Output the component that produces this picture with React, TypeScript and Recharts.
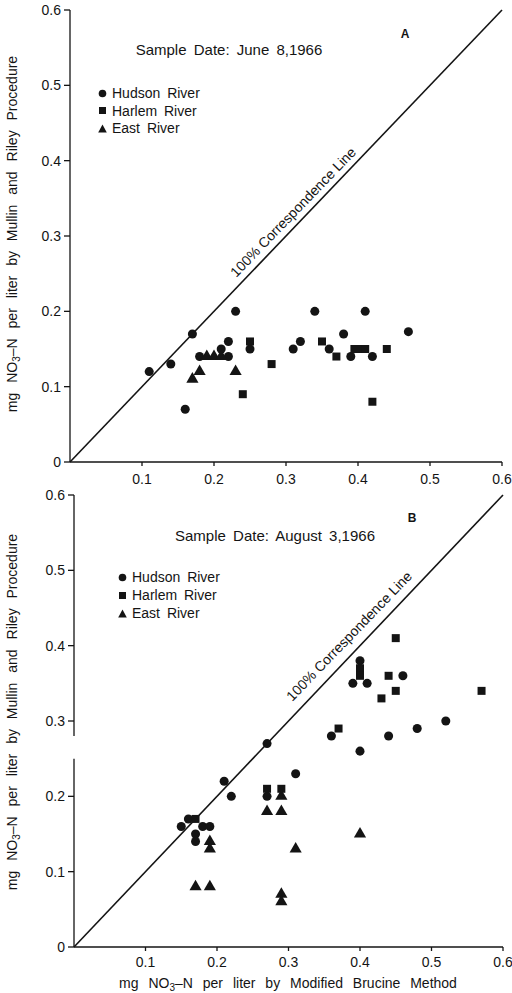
import React from 'react';
import { ScatterChart, Scatter, XAxis, YAxis, ZAxis, ReferenceLine } from 'recharts';

// values (mg NO3-N per liter)
const xTicks = [0.1, 0.2, 0.3, 0.4, 0.5, 0.6];
const yTicks = [0, 0.1, 0.2, 0.3, 0.4, 0.5, 0.6];
const riverNames = ['Hudson River', 'Harlem River', 'East River'];

// panel A - June 8, 1966  [brucine, mullin-riley]
const hudsonJune = [
  [0.11, 0.12], [0.14, 0.13], [0.17, 0.17], [0.16, 0.07], [0.18, 0.14], [0.21, 0.15],
  [0.22, 0.14], [0.22, 0.16], [0.23, 0.2], [0.25, 0.15], [0.31, 0.15], [0.32, 0.16],
  [0.34, 0.2], [0.36, 0.15], [0.38, 0.17], [0.39, 0.14], [0.41, 0.2], [0.42, 0.14],
  [0.47, 0.173],
];
const harlemJune = [
  [0.24, 0.09], [0.25, 0.16], [0.28, 0.13], [0.35, 0.16], [0.37, 0.14], [0.395, 0.15],
  [0.4, 0.15], [0.41, 0.15], [0.42, 0.08], [0.44, 0.15],
];
const eastJune = [
  [0.17, 0.11], [0.18, 0.12], [0.19, 0.14], [0.2, 0.14], [0.21, 0.14], [0.23, 0.12],
];

// panel B - August 3, 1966
const hudsonAug = [
  [0.15, 0.16], [0.16, 0.17], [0.18, 0.16], [0.19, 0.16], [0.17, 0.15], [0.17, 0.14],
  [0.21, 0.22], [0.22, 0.2], [0.27, 0.27], [0.27, 0.2], [0.31, 0.23], [0.36, 0.28],
  [0.39, 0.35], [0.4, 0.38], [0.41, 0.35], [0.4, 0.26], [0.44, 0.28], [0.46, 0.36],
  [0.48, 0.29], [0.52, 0.3],
];
const harlemAug = [
  [0.17, 0.17], [0.27, 0.21], [0.29, 0.21], [0.37, 0.29], [0.4, 0.37], [0.4, 0.36],
  [0.43, 0.33], [0.44, 0.36], [0.45, 0.34], [0.45, 0.41], [0.57, 0.34],
];
const eastAug = [
  [0.19, 0.14], [0.19, 0.13], [0.17, 0.08], [0.19, 0.08], [0.27, 0.18], [0.29, 0.2],
  [0.29, 0.18], [0.29, 0.07], [0.29, 0.06], [0.31, 0.13], [0.4, 0.15],
];

const INK = '#141414';
const FONT = '"Liberation Sans", Arial, Helvetica, sans-serif';

const toPts = (arr: number[][]) => arr.map(([x, y]) => ({ x, y }));
const fmt = (v: number) => (v === 0 ? '0' : v.toFixed(1));

const Sub3 = () => <sub style={{ fontSize: 10, verticalAlign: '-3px' }}>3</sub>;

const Marker = ({ kind }: { kind: string }) => (
  <svg width={9} height={9} style={{ marginRight: 5 }}>
    {kind === 'circle' && <circle cx={4.5} cy={4.5} r={3.8} fill={INK} />}
    {kind === 'square' && <rect x={1} y={1} width={7} height={7} fill={INK} />}
    {kind === 'triangle' && <polygon points="4.5,0.5 8.8,8.5 0.2,8.5" fill={INK} />}
  </svg>
);

const LegendBox = ({ left, top, gap }: { left: number; top: number; gap: number }) => (
  <>
    {riverNames.map((name, i) => (
      <div
        key={name}
        style={{
          position: 'absolute', left, top: top + i * gap - 9, height: 18,
          display: 'flex', alignItems: 'center', fontSize: 14, wordSpacing: 3, color: INK,
        }}
      >
        <Marker kind={['circle', 'square', 'triangle'][i]} />
        {name}
      </div>
    ))}
  </>
);

const Centered = ({ cx, cy, rot = 0, style, children }: any) => (
  <div
    style={{
      position: 'absolute', left: cx, top: cy, whiteSpace: 'nowrap', color: INK,
      transform: `translate(-50%, -50%) rotate(${rot}deg)`, ...style,
    }}
  >
    {children}
  </div>
);

interface PanelProps {
  top: number;
  height: number;
  margin: { top: number; right: number; left: number; bottom: number };
  xHeight: number;
  tickMargin: number;
  hudson: number[][];
  harlem: number[][];
  east: number[][];
  brokenAxis?: boolean;
}

const Panel = ({ top, height, margin, xHeight, tickMargin, hudson, harlem, east, brokenAxis }: PanelProps) => (
  <div style={{ position: 'absolute', left: 0, top }}>
    <ScatterChart width={512} height={height} margin={margin}>
      <XAxis
        type="number" dataKey="x" domain={[0, 0.6]} ticks={xTicks} tickFormatter={fmt}
        height={xHeight} tickSize={4} tickMargin={tickMargin} interval={0}
        stroke={INK} strokeWidth={1.3} tick={{ fill: INK, fontSize: 14 }}
      />
      <YAxis
        type="number" dataKey="y" domain={[0, 0.6]} ticks={yTicks} tickFormatter={fmt}
        width={30} tickSize={6} tickMargin={3} interval={0} axisLine={!brokenAxis}
        stroke={INK} strokeWidth={1.3} tick={{ fill: INK, fontSize: 14 }}
      />
      <ZAxis range={[48, 48]} />
      {brokenAxis && (
        <ReferenceLine segment={[{ x: 0, y: 0 }, { x: 0, y: 0.25 }]} stroke={INK} strokeWidth={1.3} ifOverflow="visible" />
      )}
      {brokenAxis && (
        <ReferenceLine segment={[{ x: 0, y: 0.28 }, { x: 0, y: 0.6 }]} stroke={INK} strokeWidth={1.3} ifOverflow="visible" />
      )}
      <ReferenceLine segment={[{ x: 0, y: 0 }, { x: 0.6, y: 0.6 }]} stroke={INK} strokeWidth={1.6} ifOverflow="visible" />
      <Scatter name="Hudson River" data={toPts(hudson)} shape="circle" fill={INK} isAnimationActive={false} />
      <Scatter name="Harlem River" data={toPts(harlem)} shape="square" fill={INK} isAnimationActive={false} />
      <Scatter name="East River" data={toPts(east)} shape="triangle" fill={INK} isAnimationActive={false} />
    </ScatterChart>
  </div>
);

const yLabel = (
  <span>
    mg NO<Sub3 />–N per liter by Mullin and Riley Procedure
  </span>
);

export default function App() {
  return (
    <div style={{ position: 'absolute', left: 0, top: 0, width: 512, height: 993, background: '#fff', fontFamily: FONT, overflow: 'hidden' }}>
      <Panel
        top={0} height={490} margin={{ top: 10, right: 10, left: 40, bottom: 0 }}
        xHeight={28} tickMargin={8}
        hudson={hudsonJune} harlem={harlemJune} east={eastJune}
      />
      <Panel
        top={485} height={508} margin={{ top: 10, right: 9, left: 44, bottom: 0 }}
        xHeight={46} tickMargin={6}
        hudson={hudsonAug} harlem={harlemAug} east={eastAug} brokenAxis
      />

      {/* panel A annotations */}
      <Centered cx={229} cy={49} style={{ fontSize: 15, wordSpacing: 3 }}>Sample Date: June 8,1966</Centered>
      <Centered cx={405} cy={34} style={{ fontSize: 12, fontWeight: 700 }}>A</Centered>
      <LegendBox left={98} top={93} gap={17.5} />
      <Centered cx={293} cy={212} rot={-46} style={{ fontSize: 14 }}>100% Correspondence Line</Centered>
      <Centered cx={13} cy={234} rot={-90} style={{ fontSize: 14, wordSpacing: 6 }}>{yLabel}</Centered>

      {/* panel B annotations */}
      <Centered cx={275} cy={535} style={{ fontSize: 15, wordSpacing: 3 }}>Sample Date: August 3,1966</Centered>
      <Centered cx={412} cy={518} style={{ fontSize: 12, fontWeight: 700 }}>B</Centered>
      <LegendBox left={118} top={577} gap={18} />
      <Centered cx={349} cy={636} rot={-46} style={{ fontSize: 14 }}>100% Correspondence Line</Centered>
      <Centered cx={13} cy={712} rot={-90} style={{ fontSize: 14, wordSpacing: 6 }}>{yLabel}</Centered>
      <Centered cx={288} cy={984} style={{ fontSize: 14, wordSpacing: 6 }}>
        mg NO<Sub3 />–N per liter by Modified Brucine Method
      </Centered>
    </div>
  );
}
